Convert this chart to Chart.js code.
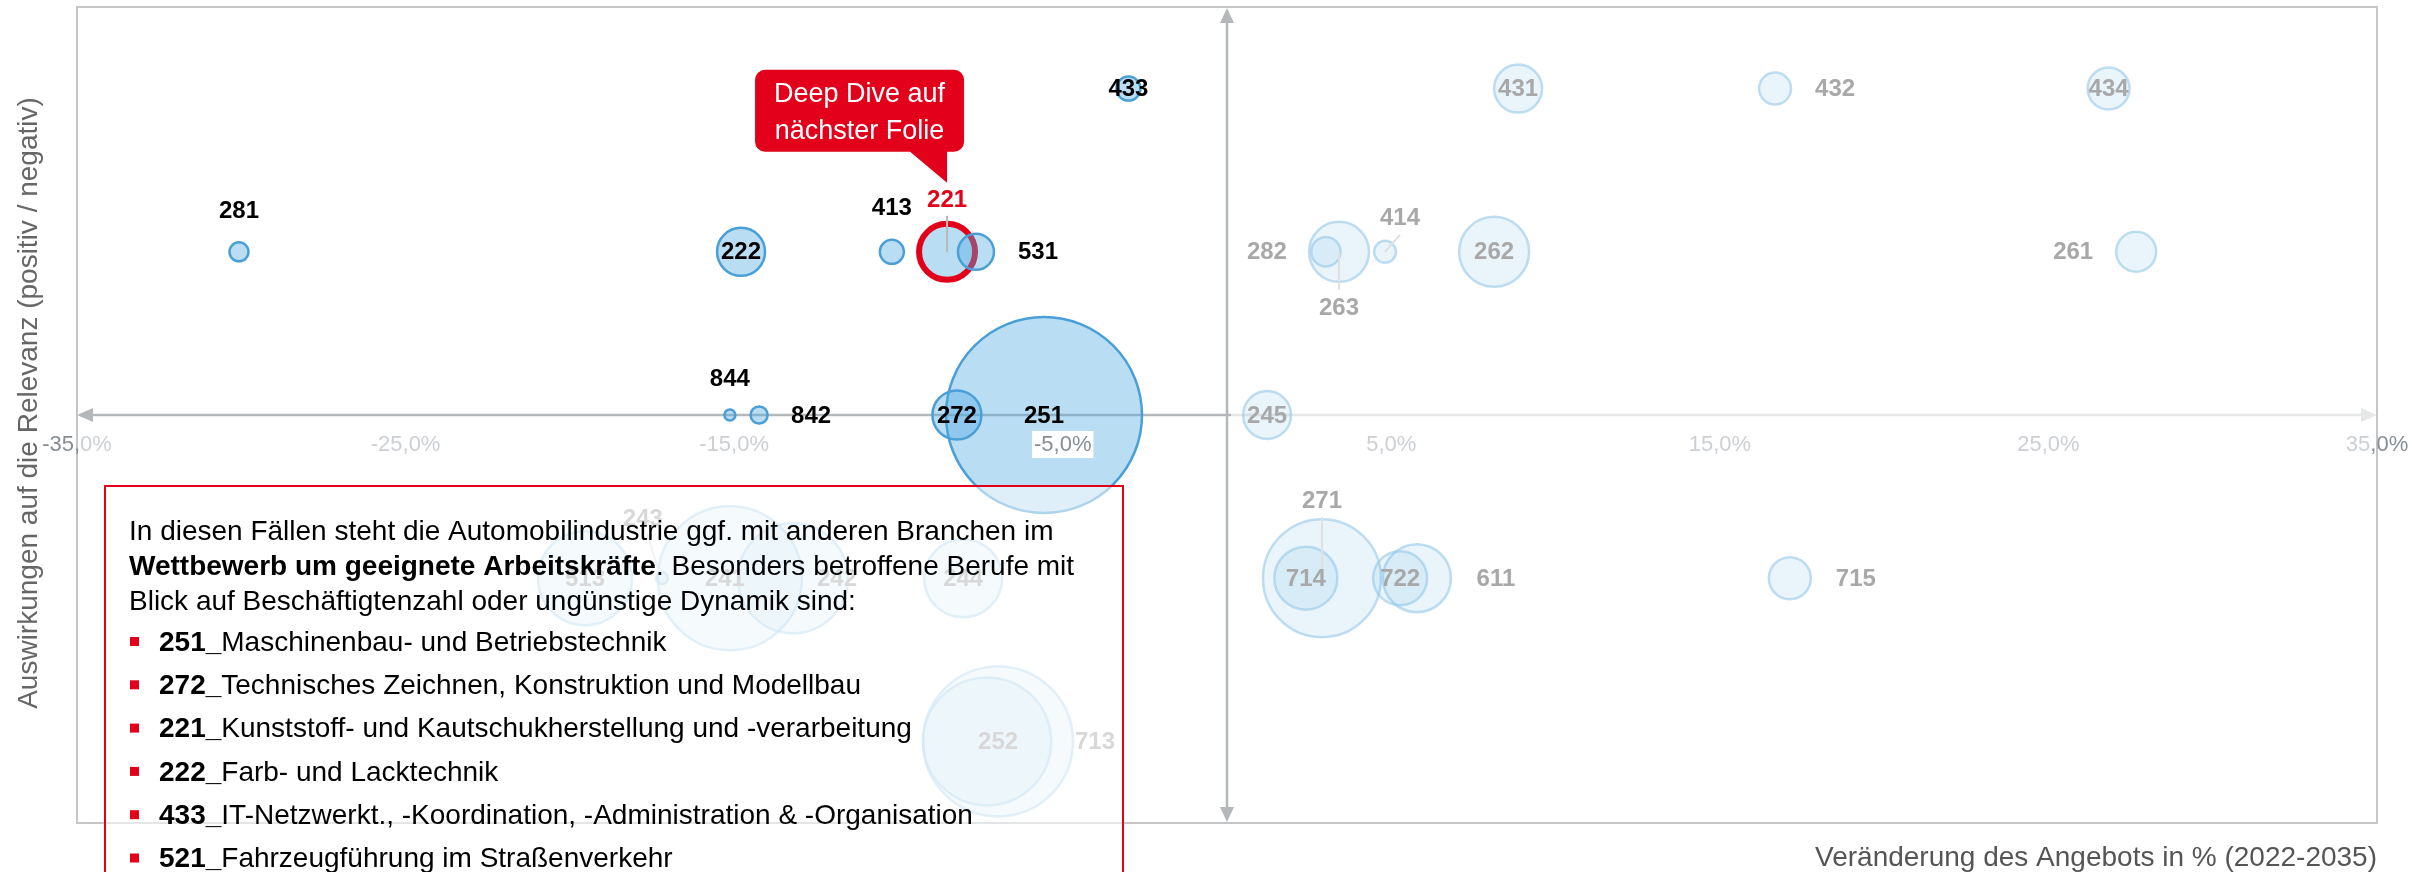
<!DOCTYPE html>
<html><head><meta charset="utf-8">
<script src="https://cdn.jsdelivr.net/npm/chart.js@4.4.1/dist/chart.umd.min.js"></script>
<style>html,body{margin:0;padding:0;background:#fff;overflow:hidden}#wrap{width:2433px;height:872px;position:relative}</style>
</head><body><div id="wrap"><canvas id="c" width="2433" height="872"></canvas></div>
<script>
// ---------- DATA ----------
const xTicks = [-35, -25, -15, -5, 5, 15, 25, 35];

// highlighted occupations (upper-left quadrant)
const activeCodes = ['433', '281', '222', '413', '221', '531', '844', '842', '251', '272'];
const activeX     = [-3.0, -30.07, -14.79, -10.2, -8.52, -7.64, -15.13, -14.24, -5.57, -8.22];
const activeY     = [2, 1, 1, 1, 1, 1, 0, 0, 0, 0];
const activeSize  = [12, 9.5, 24, 12, 28, 18, 5.5, 8.5, 98, 24.5];

// other occupations (greyed out)
const faintCodes = ['431', '432', '434', '263', '282', '414', '262', '261', '245', '271', '714', '611', '722', '715', '513', '243', '241', '242', '244', '713', '252'];
const faintX     = [8.86, 16.68, 26.83, 3.41, 3.01, 4.81, 8.13, 27.67, 1.22, 2.89, 2.4, 5.78, 5.27, 17.13, -19.54, -17.2, -15.13, -13.21, -8.03, -6.97, -7.3];
const faintY     = [2, 2, 2, 1, 1, 1, 1, 1, 0, -1, -1, -1, -1, -1, -1, -1, -1, -1, -1, -2, -2];
const faintSize  = [24, 16, 21, 30, 14.7, 11, 35, 20, 24, 59, 31.5, 34, 27, 21, 47, 6, 72, 55, 39, 75, 64];

const highlightCode = '221';

const introLines = [
  [['In diesen Fällen steht die Automobilindustrie ggf. mit anderen Branchen im', false]],
  [['Wettbewerb um geeignete Arbeitskräfte', true], ['. Besonders betroffene Berufe mit', false]],
  [['Blick auf Beschäftigtenzahl oder ungünstige Dynamik sind:', false]]
];
const bulletCodes = ['251', '272', '221', '222', '433', '521'];
const bulletTexts = ['Maschinenbau- und Betriebstechnik', 'Technisches Zeichnen, Konstruktion und Modellbau',
  'Kunststoff- und Kautschukherstellung und -verarbeitung', 'Farb- und Lacktechnik',
  'IT-Netzwerkt., -Koordination, -Administration & -Organisation', 'Fahrzeugführung im Straßenverkehr'];

const yTitle = 'Auswirkungen auf die Relevanz (positiv / negativ)';
const xTitle = 'Veränderung des Angebots in % (2022-2035)';
const calloutLines = ['Deep Dive auf', 'nächster Folie'];

// ---------- STYLE / LAYOUT ----------
const FONT = '"Liberation Sans", Arial, Helvetica, sans-serif';
const RED = '#e2001a';
const TICK_LIGHT = '#ccd0d4', TICK_DARK = '#868d94';
const labelOffset = {
  '433':[0,0], '281':[0,-41], '222':[0,0], '413':[0,-44], '221':[0,-52], '531':[62,0],
  '844':[0,-37], '842':[52,0], '272':[0,0], '251':[0,0],
  '431':[0,0], '432':[60,0], '434':[0,0], '282':[-59,0], '263':[0,56], '414':[15,-34],
  '262':[0,0], '261':[-63,0], '245':[0,0], '271':[0,-78], '714':[0,0], '722':[0,0],
  '611':[79,0], '715':[66,0], '513':[0,0], '243':[-19,-60], '241':[-5,0], '242':[44,0],
  '244':[0,0], '252':[11,0], '713':[97,0]
};
const leaders = {
  '221':[[0,-36],[0,0],'#b8b8b8'], '263':[[0,0],[0,38],'#e0e0e0'], '414':[[15,-17],[0,0],'#e0e0e0'],
  '271':[[0,-61],[0,-8],'#e0e0e0'], '243':[[-15,-45],[-2,-4],'#e0e0e0']
};

function mk(codes, xs, ys, rs) {
  return codes.map((c, i) => ({x: xs[i], y: ys[i], r: rs[i], code: c}));
}

const fmt = v => (v < 0 ? '-' : '') + Math.abs(v).toFixed(1).replace('.', ',') + '%';

function drawRuns(ctx, runs, cx, cy) {
  // runs: [[text, color], ...] drawn centred as a whole at cx
  const total = runs.reduce((s, r) => s + ctx.measureText(r[0]).width, 0);
  let px = cx - total / 2;
  ctx.textAlign = 'left';
  runs.forEach(([t, c]) => { ctx.fillStyle = c; ctx.fillText(t, px, cy); px += ctx.measureText(t).width; });
}

const decor = {
  id: 'decor',
  beforeDatasetsDraw(chart) {
    const {ctx, chartArea: a, scales: {x, y}} = chart;
    ctx.save();
    ctx.strokeStyle = '#c4c6c8'; ctx.lineWidth = 2;
    ctx.strokeRect(a.left, a.top, a.right - a.left, a.bottom - a.top);
    const y0 = y.getPixelForValue(0);
    const x0 = x.getPixelForValue(0);
    ctx.lineWidth = 2.5;
    ctx.strokeStyle = '#b5b8bb';
    ctx.beginPath(); ctx.moveTo(a.left + 14, y0); ctx.lineTo(x0 + 4, y0); ctx.stroke();
    ctx.strokeStyle = '#e6e7e8';
    ctx.beginPath(); ctx.moveTo(x0 + 4, y0); ctx.lineTo(a.right - 14, y0); ctx.stroke();
    ctx.fillStyle = '#b5b8bb';
    ctx.beginPath(); ctx.moveTo(a.left, y0); ctx.lineTo(a.left + 16, y0 - 7); ctx.lineTo(a.left + 16, y0 + 7); ctx.fill();
    ctx.fillStyle = '#e6e7e8';
    ctx.beginPath(); ctx.moveTo(a.right, y0); ctx.lineTo(a.right - 16, y0 - 7); ctx.lineTo(a.right - 16, y0 + 7); ctx.fill();
    ctx.strokeStyle = '#b5b8bb';
    ctx.beginPath(); ctx.moveTo(x0, a.top + 12); ctx.lineTo(x0, a.bottom - 12); ctx.stroke();
    ctx.fillStyle = '#b5b8bb';
    ctx.beginPath(); ctx.moveTo(x0, a.top + 1); ctx.lineTo(x0 - 7, a.top + 16); ctx.lineTo(x0 + 7, a.top + 16); ctx.fill();
    ctx.beginPath(); ctx.moveTo(x0, a.bottom - 1); ctx.lineTo(x0 - 7, a.bottom - 16); ctx.lineTo(x0 + 7, a.bottom - 16); ctx.fill();
    ctx.restore();
  },
  afterDatasetsDraw(chart) {
    const {ctx, chartArea: a, scales: {x, y}} = chart;
    ctx.save();
    chart.data.datasets.forEach((ds, di) => {
      const meta = chart.getDatasetMeta(di);
      ds.data.forEach((d, i) => {
        const el = meta.data[i];
        const L = leaders[d.code];
        if (L) {
          ctx.strokeStyle = L[2]; ctx.lineWidth = 2;
          ctx.beginPath(); ctx.moveTo(el.x + L[0][0], el.y + L[0][1]); ctx.lineTo(el.x + L[1][0], el.y + L[1][1]); ctx.stroke();
        }
      });
    });
    chart.data.datasets.forEach((ds, di) => {
      const meta = chart.getDatasetMeta(di);
      ds.data.forEach((d, i) => {
        const el = meta.data[i];
        const off = labelOffset[d.code] || [0, 0];
        ctx.font = 'bold 24px ' + FONT;
        ctx.textAlign = 'center'; ctx.textBaseline = 'middle';
        ctx.fillStyle = d.code === highlightCode ? RED : (di === 0 ? '#000' : '#a8a8a8');
        ctx.fillText(d.code, el.x + off[0], el.y + off[1] + 1);
      });
    });
    // tick labels
    const yl = y.getPixelForValue(0) + 30;
    ctx.font = '22px ' + FONT; ctx.textBaseline = 'middle';
    xTicks.forEach((v, i) => {
      const px = x.getPixelForValue(v);
      const t = fmt(v);
      if (v === -5) {
        const w = ctx.measureText(t).width;
        ctx.fillStyle = '#fff'; ctx.fillRect(px - w / 2 - 2, yl - 14, w + 4, 27);
        drawRuns(ctx, [[t, TICK_DARK]], px, yl);
      } else if (i === 0) {
        const k = t.indexOf(',') + 1;
        drawRuns(ctx, [[t.slice(0, k), TICK_DARK], [t.slice(k), TICK_LIGHT]], px, yl);
      } else if (i === xTicks.length - 1) {
        const k = t.indexOf(',');
        drawRuns(ctx, [[t.slice(0, k), TICK_LIGHT], [t.slice(k), TICK_DARK]], px, yl);
      } else {
        drawRuns(ctx, [[t, TICK_LIGHT]], px, yl);
      }
    });
    // callout
    const ai = activeCodes.indexOf(highlightCode);
    const hp = chart.getDatasetMeta(0).data[ai];
    const hx = hp.x, hy = hp.y;
    ctx.fillStyle = RED;
    const rl = hx - 192, rr = hx + 17, rt = hy - 182, rb = hy - 100, rad = 10;
    ctx.beginPath();
    ctx.moveTo(rl + rad, rt); ctx.lineTo(rr - rad, rt); ctx.arcTo(rr, rt, rr, rt + rad, rad);
    ctx.lineTo(rr, rb - rad); ctx.arcTo(rr, rb, rr - rad, rb, rad);
    ctx.lineTo(hx, rb); ctx.lineTo(hx, hy - 69); ctx.lineTo(hx - 37, rb);
    ctx.lineTo(rl + rad, rb); ctx.arcTo(rl, rb, rl, rb - rad, rad);
    ctx.lineTo(rl, rt + rad); ctx.arcTo(rl, rt, rl + rad, rt, rad);
    ctx.closePath(); ctx.fill();
    ctx.fillStyle = '#fff'; ctx.font = '27px ' + FONT; ctx.textAlign = 'center';
    ctx.fillText(calloutLines[0], (rl + rr) / 2, hy - 157);
    ctx.fillText(calloutLines[1], (rl + rr) / 2, hy - 120);
    // text box
    const bx = 105, by = 486, bw = 1018;
    ctx.fillStyle = 'rgba(255,255,255,0.55)';
    ctx.fillRect(bx, by, bw, 872 - by + 20);
    ctx.strokeStyle = RED; ctx.lineWidth = 2;
    ctx.strokeRect(bx, by, bw, 872 - by + 20);
    ctx.textAlign = 'left'; ctx.textBaseline = 'middle'; ctx.fillStyle = '#000';
    introLines.forEach((runs, li) => {
      let cx = 129; const cy = 532 + li * 35;
      runs.forEach(([t, b]) => {
        ctx.font = (b ? 'bold ' : '') + '28px ' + FONT;
        ctx.fillText(t, cx, cy);
        cx += ctx.measureText(t).width;
      });
    });
    bulletCodes.forEach((c, i) => {
      const cy = 643 + i * 43.3;
      ctx.fillStyle = RED; ctx.fillRect(130, cy - 6, 9, 9);
      ctx.fillStyle = '#000';
      ctx.font = 'bold 28px ' + FONT;
      const t1 = c + '_';
      ctx.fillText(t1, 159, cy);
      const w1 = ctx.measureText(t1).width;
      ctx.font = '28px ' + FONT;
      ctx.fillText(bulletTexts[i], 159 + w1, cy);
    });
    // axis titles
    ctx.fillStyle = '#666'; ctx.font = '28px ' + FONT;
    ctx.save(); ctx.translate(29, 403); ctx.rotate(-Math.PI / 2);
    ctx.textAlign = 'center'; ctx.fillText(yTitle, 0, 0); ctx.restore();
    ctx.fillStyle = '#555'; ctx.textAlign = 'right';
    ctx.fillText(xTitle, a.right, 858);
    ctx.restore();
  }
};

new Chart(document.getElementById('c'), {
  type: 'bubble',
  data: {
    datasets: [
      {
        data: mk(activeCodes, activeX, activeY, activeSize),
        backgroundColor: 'rgba(80,170,225,0.4)',
        borderColor: ctx => (ctx.raw && ctx.raw.code === highlightCode) ? RED : '#4a9fd6',
        borderWidth: ctx => (ctx.raw && ctx.raw.code === highlightCode) ? 6 : 2.5
      },
      {
        data: mk(faintCodes, faintX, faintY, faintSize),
        backgroundColor: 'rgba(80,170,225,0.12)',
        borderColor: 'rgba(150,200,232,0.6)',
        borderWidth: 2.5
      }
    ]
  },
  options: {
    responsive: false, animation: false, devicePixelRatio: 1, events: [],
    layout: {autoPadding: false, padding: {left: 77, top: 7, right: 56, bottom: 49}},
    plugins: {legend: {display: false}, tooltip: {enabled: false}},
    scales: {
      x: {type: 'linear', min: -35, max: 35, display: false},
      y: {type: 'linear', min: -2.5, max: 2.5, display: false}
    },
    clip: false
  },
  plugins: [decor]
});
</script></body></html>
